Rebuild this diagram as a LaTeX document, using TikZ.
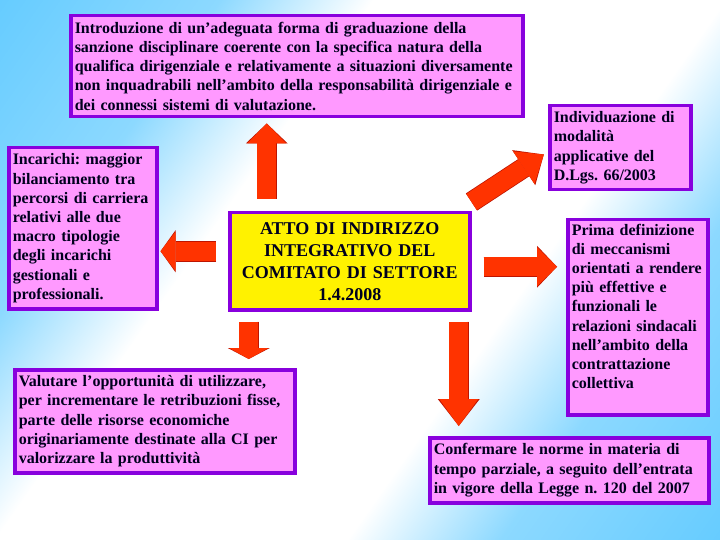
\documentclass[tikz,border=0pt]{standalone}
\usepackage{fontspec}
\setmainfont{Liberation Serif}
\usepackage{tikz}
\usetikzlibrary{arrows.meta, positioning}
\definecolor{bgblue}{RGB}{102,204,255}
\colorlet{bgmid}{bgblue!75!white}
\definecolor{boxpink}{RGB}{255,153,255}
\definecolor{boxedge}{RGB}{136,0,221}
\definecolor{arrowred}{RGB}{255,51,0}
\definecolor{arrowedge}{RGB}{190,20,0}
\definecolor{textnavy}{RGB}{0,0,30}
\pgfdeclareverticalshading{bgshade}{100bp}{color(0bp)=(bgblue); color(25bp)=(bgblue); color(35bp)=(bgmid); color(42bp)=(white); color(58bp)=(white); color(65bp)=(bgmid); color(75bp)=(bgblue); color(100bp)=(bgblue)}
\frenchspacing

\begin{document}
\begin{tikzpicture}[
        x=1pt, y=-1pt,
        box/.style={rectangle, draw=boxedge, line width=3.5pt, fill=boxpink, anchor=north west, align=left, inner xsep=4pt, inner ysep=4pt, text=textnavy, font=\fontsize{16}{19.2}\selectfont\bfseries},
        mainbox/.style={box, fill=yellow, align=center, font=\fontsize{18}{22}\selectfont\bfseries},
        bigarrow/.style={draw=arrowred, line width=19pt, -{Triangle[width=39pt, length=#1, line width=0pt]}, preaction={draw=arrowedge, line width=20.5pt, -{Triangle[width=42pt, length=#1, line width=0pt]}}}
    ]
        % sfondo
        \useasboundingbox (0,0) rectangle (720,540);
        \begin{scope}
            \clip (0,0) rectangle (720,540);
            \shade[shading=bgshade, transform canvas={rotate around={55:(360,270)}}] (-100,-180) rectangle (820,720);
        \end{scope}

        \node[mainbox, text width=232pt, minimum height=97pt] (ctr) at (228,211) {ATTO DI INDIRIZZO\\ INTEGRATIVO DEL\\ COMITATO DI SETTORE\\ 1.4.2008};
        \node[box, text width=444pt, minimum height=101pt] (intro) at (69,14) {Introduzione di un’adeguata forma di graduazione della\\ sanzione disciplinare coerente con la specifica natura della\\ qualifica dirigenziale e relativamente a situazioni diversamente\\ non inquadrabili nell’ambito della responsabilità dirigenziale e\\ dei connessi sistemi di valutazione.};
        \node[box, text width=140pt, minimum height=161pt] (inc) at (7,146) {Incarichi: maggior\\ bilanciamento tra\\ percorsi di carriera\\ relativi alle due\\ macro tipologie\\ degli incarichi\\ gestionali e\\ professionali.};
        \node[box, text width=133pt, minimum height=84pt] (indiv) at (548,104) {Individuazione di\\ modalità\\ applicative del\\ D.Lgs. 66/2003};
        \node[box, text width=132pt] (prima) at (566,218) {Prima definizione\\ di meccanismi\\ orientati a rendere\\ più effettive e\\ funzionali le\\ relazioni sindacali\\ nell’ambito della\\ contrattazione\\ collettiva\par\vspace{22pt}};
        \node[box, text width=272pt, minimum height=103pt] (valut) at (13,368) {Valutare l’opportunità di utilizzare,\\ per incrementare le retribuzioni fisse,\\ parte delle risorse economiche\\ originariamente destinate alla CI per\\ valorizzare la produttività};
        \node[box, text width=271pt, minimum height=65pt] (conf) at (428,436) {Confermare le norme in materia di\\ tempo parziale, a seguito dell’entrata\\ in vigore della Legge n. 120 del 2007};

        % frecce
        \coordinate (upfoot) at ([xshift=-83pt]ctr.north);
        \coordinate (leftfoot) at ([yshift=10pt]ctr.west);
        \coordinate (dlfoot) at ([xshift=-101pt]ctr.south);
        \coordinate (drfoot) at ([xshift=109pt]ctr.south);
        \coordinate (rightfoot) at ([yshift=-5.5pt]ctr.east);

        \draw[bigarrow=20pt, shorten <=12pt, shorten >=5pt] (upfoot) -- (upfoot |- intro.south);
        \draw[bigarrow=15pt, shorten <=12pt, shorten >=2pt] (leftfoot) -- (leftfoot -| inc.east);
        \draw[bigarrow=11pt, shorten <=10pt, shorten >=9pt] (dlfoot) -- (dlfoot |- valut.north);
        \draw[bigarrow=27pt, shorten <=10pt, shorten >=10pt] (drfoot) -- (drfoot |- conf.north);
        \draw[bigarrow=20pt, shorten <=12pt, shorten >=9pt] (rightfoot) -- (rightfoot -| prima.west);
        \draw[bigarrow=24pt, shorten >=5pt] ([yshift=9pt]ctr.north east) -- ([yshift=-4pt]indiv.west);
    \end{tikzpicture}
\end{document}
